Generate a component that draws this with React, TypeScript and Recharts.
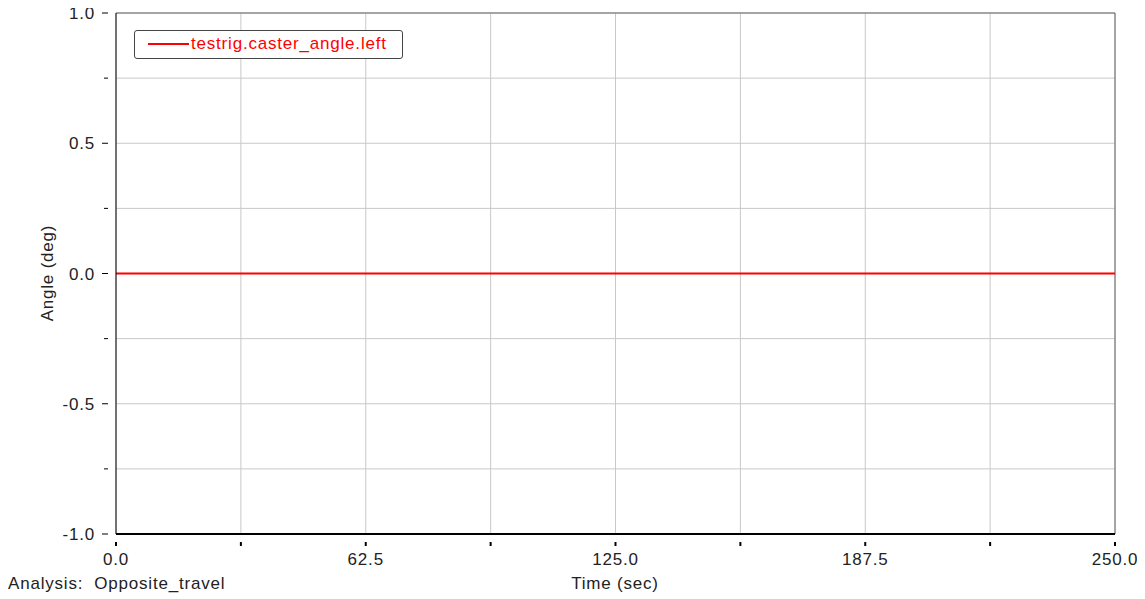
import React from "react";
import { LineChart, Line, XAxis, YAxis, CartesianGrid, ReferenceLine } from "recharts";

const times = [0, 62.5, 125, 187.5, 250];
const casterAngleLeft = [0, 0, 0, 0, 0];
const xTicks = [0, 31.25, 62.5, 93.75, 125, 156.25, 187.5, 218.75, 250];
const xLabeled = [0, 62.5, 125, 187.5, 250];
const yTicks = [-1, -0.75, -0.5, -0.25, 0, 0.25, 0.5, 0.75, 1];
const yLabeled = [-1, -0.5, 0, 0.5, 1];

const data = times.map((t, i) => ({ t, v: casterAngleLeft[i] }));

const FONT = "'Liberation Sans', Arial, sans-serif";
const FS = 17;
const LS = 0.8;

const YTick = (props: any) => {
  const { x, y, payload } = props;
  const major = yLabeled.some((v) => Math.abs(v - payload.value) < 1e-9);
  return (
    <g>
      <line x1={x - (major ? 6 : 4)} x2={x} y1={y} y2={y} stroke="#000" strokeWidth={1} />
      {major && (
        <text x={x - 13} y={y} dy={6} textAnchor="end" fontSize={FS} letterSpacing={LS} fill="#222" fontFamily={FONT}>
          {payload.value.toFixed(1)}
        </text>
      )}
    </g>
  );
};

const XTick = (props: any) => {
  const { x, y, payload } = props;
  const major = xLabeled.some((v) => Math.abs(v - payload.value) < 1e-9);
  return (
    <g>
      <line x1={x} x2={x} y1={y} y2={y + 4} stroke="#000" strokeWidth={2} />
      {major && (
        <text x={x} y={y + 23} textAnchor="middle" fontSize={FS} letterSpacing={LS} fill="#222" fontFamily={FONT}>
          {payload.value.toFixed(1)}
        </text>
      )}
    </g>
  );
};

export default function App() {
  return (
    <div style={{ position: "relative", width: 1145, height: 599, margin: "-8px 0 0 -8px", fontFamily: FONT, overflow: "hidden" }}>
      <LineChart
        width={1145}
        height={599}
        data={data}
        margin={{ top: 13, right: 30, left: 0, bottom: 35 }}
      >
        <CartesianGrid stroke="#c8c8c8" strokeWidth={1} />
        <XAxis
          dataKey="t"
          type="number"
          domain={[0, 250]}
          ticks={xTicks}
          interval={0}
          height={30}
          axisLine={{ stroke: "#000", strokeWidth: 2 }}
          tickLine={false}
          tick={<XTick />}
          allowDataOverflow
        />
        <YAxis
          type="number"
          domain={[-1, 1]}
          ticks={yTicks}
          interval={0}
          width={116}
          axisLine={{ stroke: "#000", strokeWidth: 1 }}
          tickLine={false}
          tick={<YTick />}
          allowDataOverflow
        />
        <ReferenceLine y={1} stroke="#666" strokeWidth={1} />
        <ReferenceLine x={250} stroke="#666" strokeWidth={1} />
        <Line
          dataKey="v"
          stroke="#ff0000"
          strokeWidth={2}
          dot={false}
          isAnimationActive={false}
        />
      </LineChart>
      <div
        style={{
          position: "absolute",
          left: 134,
          top: 30,
          width: 269,
          height: 29,
          border: "1px solid #444",
          borderRadius: 3,
          background: "#fff",
          boxSizing: "border-box",
        }}
      >
        <div style={{ position: "absolute", left: 13, top: 12, width: 41, height: 2, background: "#ff0000" }} />
        <div style={{ position: "absolute", left: 56, top: 3, fontSize: FS, letterSpacing: LS, color: "#ff0000", lineHeight: "20px", whiteSpace: "nowrap" }}>
          testrig.caster_angle.left
        </div>
      </div>
      <div
        style={{
          position: "absolute",
          left: 48 - 60,
          top: 273 - 11,
          width: 120,
          height: 22,
          transform: "rotate(-90deg)",
          textAlign: "center",
          fontSize: FS,
          letterSpacing: LS,
          color: "#222",
          lineHeight: "22px",
          whiteSpace: "nowrap",
        }}
      >
        Angle (deg)
      </div>
      <div style={{ position: "absolute", left: 8, top: 573, fontSize: FS, letterSpacing: LS, color: "#222", whiteSpace: "nowrap", lineHeight: "22px" }}>
        Analysis:&nbsp; Opposite_travel
      </div>
      <div style={{ position: "absolute", left: 555, width: 120, textAlign: "center", top: 573, fontSize: FS, letterSpacing: LS, color: "#222", whiteSpace: "nowrap", lineHeight: "22px" }}>
        Time (sec)
      </div>
    </div>
  );
}
